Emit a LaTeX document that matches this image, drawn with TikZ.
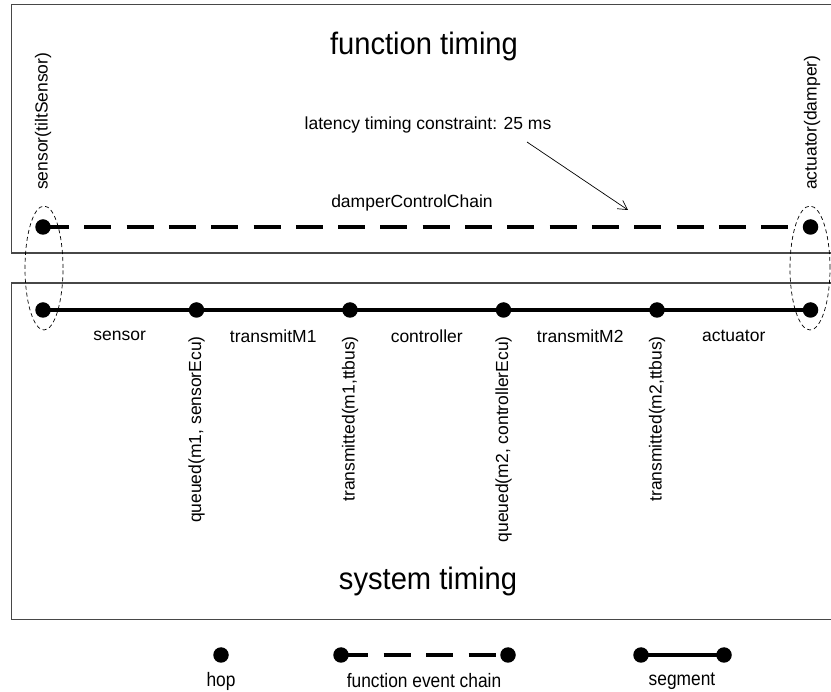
\documentclass[tikz,border=0pt]{standalone}
\usepackage{fontspec}
\setmainfont{Liberation Sans}
\usetikzlibrary{shapes.geometric,arrows.meta,calc,backgrounds}

\begin{document}
\begin{tikzpicture}[x=1pt,y=-1pt,
  frame/.style={draw=black!72, line width=1.3pt},
  hopdot/.style={circle, fill=black, inner sep=0pt, minimum size=15.5pt},
  seg/.style={line width=3.2pt},
  fchain/.style={line width=3.4pt, dash pattern=on 27pt off 15.3pt, dash phase=1pt},
  grp/.style={draw, ellipse, dash pattern=on 4pt off 3pt, line width=0.7pt,
              inner sep=0pt, minimum width=38pt, minimum height=124pt},
  lbl/.style={font=\fontsize{17.5}{20}\selectfont, inner sep=0pt},
  vlbl/.style={lbl, rotate=90},
  legendlbl/.style={font=\fontsize{19.5}{22}\selectfont, inner sep=0pt, xscale=0.89},
  ttl/.style={font=\fontsize{31}{34}\selectfont, inner sep=0pt, xscale=0.94},
  note/.style={line width=0.7pt, -{Straight Barb[length=9pt,width=10pt]}}
]
\useasboundingbox (0,0) rectangle (831,692);
\clip (0,0) rectangle (831,692);

% frames of the two timing views
\draw[frame] (11.7,4.3) rectangle (845,253);
\draw[frame] (11.7,283) rectangle (845,619.3);

\node[ttl] (ftitle) at (424,46) {function timing};
\node[ttl] (stitle) at (428,581) {system timing};

% hops of the function event chain
\node[hopdot] (fa) at (43,227) {};
\node[hopdot] (fb) at (810.5,227) {};

% hops of the system timing chain
\node[hopdot] (h1) at (43,310) {};
\node[hopdot] (h2) at (196.5,310) {};
\node[hopdot] (h3) at (350,310) {};
\node[hopdot] (h4) at (503.5,310) {};
\node[hopdot] (h5) at (657,310) {};
\node[hopdot] (h6) at (810.5,310) {};

\begin{pgfonlayer}{background}
  \draw[fchain] (fa.center) -- (fb.center);
  \draw[seg] (h1.center) -- (h2.center) -- (h3.center) -- (h4.center)
             -- (h5.center) -- (h6.center);
\end{pgfonlayer}

% groupings of corresponding events
\node[grp] (gl) at (44,268) {};
\node[grp, minimum width=40pt] (gr) at (810,268) {};

% event labels
\node[vlbl, anchor=west] (lfa) at (43,190) {sensor(tiltSensor)};
\node[vlbl, anchor=west] (lfb) at (812,190) {actuator(damper)};
\node[vlbl, anchor=east] (l2) at (196.5,336) {queued(m1, sensorEcu)};
\node[vlbl, anchor=east] (l3) at (350,336) {transmitted(m1,ttbus)};
\node[vlbl, anchor=east] (l4) at (503.5,336) {queued(m2, controllerEcu)};
\node[vlbl, anchor=east] (l5) at (657,336) {transmitted(m2,ttbus)};

% segment labels
\node[lbl] (s1) at ($(h1)!0.5!(h2)+(0,26)$) {sensor};
\node[lbl] (s2) at ($(h2)!0.5!(h3)+(0,26)$) {transmitM1};
\node[lbl] (s3) at ($(h3)!0.5!(h4)+(0,26)$) {controller};
\node[lbl] (s4) at ($(h4)!0.5!(h5)+(0,26)$) {transmitM2};
\node[lbl] (s5) at ($(h5)!0.5!(h6)+(0,26)$) {actuator};

% chain name and timing constraint
\node[lbl] (chainname) at (412,203) {damperControlChain};
\node[lbl] (constraint) at (428,125) {latency timing constraint: 25 ms};
\coordinate (ctail) at (527,142);
\coordinate (chead) at (628,210);
\draw[note] (ctail) -- (chead);

% legend
\node[hopdot] (lhop) at (221,655) {};
\node[legendlbl] (lhopt) at (221,681) {hop};

\node[hopdot] (lca) at (341,655) {};
\node[hopdot] (lcb) at (508,655) {};
\begin{pgfonlayer}{background}
  \draw[fchain, dash phase=0pt, dash pattern=on 27pt off 15.5pt] (lca.center) -- (lcb.center);
\end{pgfonlayer}
\node[legendlbl] (lchaint) at (424,681) {function event chain};

\node[hopdot] (lsa) at (641,655) {};
\node[hopdot] (lsb) at (724,655) {};
\begin{pgfonlayer}{background}
  \draw[seg] (lsa.center) -- (lsb.center);
\end{pgfonlayer}
\node[legendlbl] (lsegt) at (682,681) {segment};
\end{tikzpicture}
\end{document}
